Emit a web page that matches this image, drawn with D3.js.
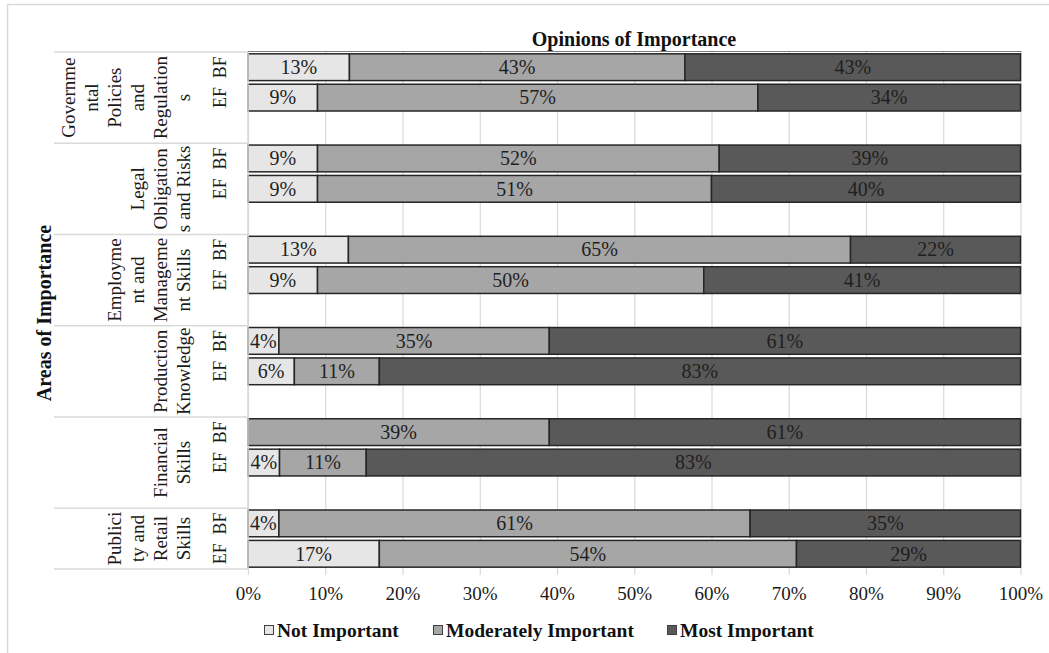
<!DOCTYPE html>
<html>
<head>
<meta charset="utf-8">
<script src="https://cdn.jsdelivr.net/npm/d3@7"></script>
<style>
  body { margin: 0; background: #fff; }
  svg { display: block; }
  text { font-family: "Liberation Serif", "Times New Roman", serif; }
</style>
</head>
<body>
<svg id="chart" width="1049" height="653"></svg>
<script>
// Area names, wrapped the way they are printed beside the bars
const areaLabels = [
  ["Governme", "ntal", "Policies", "and", "Regulation", "s"],
  ["Legal", "Obligation", "s and Risks"],
  ["Employme", "nt and", "Manageme", "nt Skills"],
  ["Production", "Knowledge"],
  ["Financial", "Skills"],
  ["Publici", "ty and", "Retail", "Skills"]
];
const respondents = ["BF", "EF"];

// One entry per bar: BF then EF for each area, top to bottom (percent)
const notImportant  = [13,  9,  9,  9, 13,  9,  4,  6,  0,  4,  4, 17];
const moderately    = [43, 57, 52, 51, 65, 50, 35, 11, 39, 11, 61, 54];
const mostImportant = [43, 34, 39, 40, 22, 41, 61, 83, 61, 83, 35, 29];

const seriesNames = ["Not Important", "Moderately Important", "Most Important"];
const seriesColors = ["#e7e6e6", "#a6a6a6", "#595959"];
const xTickValues = [0, 0.1, 0.2, 0.3, 0.4, 0.5, 0.6, 0.7, 0.8, 0.9, 1];

const chartTitle = "Opinions of Importance";
const axisTitle = "Areas of Importance";

const svg = d3.select("#chart");

// rows for the stack
const rows = notImportant.map((v, i) => ({
  key: `${Math.floor(i / 2)}-${respondents[i % 2]}`,
  area: Math.floor(i / 2),
  resp: respondents[i % 2],
  "Not Important": v,
  "Moderately Important": moderately[i],
  "Most Important": mostImportant[i]
}));

// category slots: two bars per area with an empty slot between areas
const slots = [];
areaLabels.forEach((_, g) => {
  respondents.forEach(r => slots.push(`${g}-${r}`));
  if (g < areaLabels.length - 1) slots.push(`${g}-gap`);
});

const plotTop = 52, plotBottom = 569;
const x = d3.scaleLinear().domain([0, 1]).range([248, 1020.5]);
const y = d3.scaleBand().domain(slots).range([plotTop, plotBottom])
  .paddingInner(0.12).paddingOuter(0.06);
const color = d3.scaleOrdinal().domain(seriesNames).range(seriesColors);

// outer chart frame
svg.append("rect")
  .attr("x", 7.5).attr("y", 4.5).attr("width", 1060).attr("height", 680)
  .attr("fill", "none").attr("stroke", "#d9d9d9").attr("stroke-width", 1.5);

// title
svg.append("text")
  .attr("x", 634).attr("y", 46)
  .attr("text-anchor", "middle")
  .attr("font-weight", "bold").attr("font-size", 20).attr("fill", "#111")
  .text(chartTitle);

// vertical gridlines
const grid = svg.append("g")
  .attr("transform", `translate(0,${plotTop - 1})`)
  .call(d3.axisBottom(x).tickValues(xTickValues).tickSize(575 - plotTop + 1).tickFormat(""));
grid.select(".domain").remove();
grid.selectAll("line").attr("stroke", "#d9d9d9").attr("stroke-width", 1.2);

// top rule of the plot
svg.append("line")
  .attr("x1", x(0)).attr("x2", x(1) + 1)
  .attr("y1", plotTop - 0.5).attr("y2", plotTop - 0.5)
  .attr("stroke", "#7f7f7f").attr("stroke-width", 1.2);

// x tick labels
const xAxis = svg.append("g")
  .attr("transform", `translate(0,${plotBottom})`)
  .call(d3.axisBottom(x).tickValues(xTickValues).tickSize(0).tickPadding(0)
    .tickFormat(d3.format(".0%")));
xAxis.select(".domain").remove();
xAxis.selectAll("text")
  .attr("y", 31).attr("dy", null)
  .attr("font-family", "Liberation Serif, Times New Roman, serif")
  .attr("font-size", 19).attr("fill", "#1a1a1a");

// stacked 100% bars
const stacked = d3.stack().keys(seriesNames).offset(d3.stackOffsetExpand)(rows);

const layers = svg.append("g").selectAll("g")
  .data(stacked).join("g")
  .attr("fill", d => color(d.key));

layers.selectAll("rect")
  .data(d => d).join("rect")
  .attr("x", d => x(d[0]))
  .attr("y", d => y(d.data.key))
  .attr("width", d => x(d[1]) - x(d[0]))
  .attr("height", y.bandwidth())
  .attr("stroke", d => (d[1] - d[0]) > 0 ? "#262626" : "none")
  .attr("stroke-width", 1.5);

// value labels
layers.selectAll("text")
  .data(d => d.map(p => ({ p, key: d.key })).filter(o => o.p.data[o.key] > 0))
  .join("text")
  .attr("x", o => (x(o.p[0]) + x(o.p[1])) / 2)
  .attr("y", o => y(o.p.data.key) + y.bandwidth() / 2)
  .attr("dy", "0.34em")
  .attr("text-anchor", "middle")
  .attr("font-size", 20).attr("fill", "#1f1f1f")
  .text(o => o.p.data[o.key] + "%");

// category axis: left spine
svg.append("line")
  .attr("x1", 248).attr("x2", 248)
  .attr("y1", plotTop).attr("y2", plotBottom)
  .attr("stroke", "#d9d9d9").attr("stroke-width", 1.5);

// group separators
const bounds = areaLabels.map((_, g) => y(`${g}-BF`) - y.step() * y.paddingOuter());
bounds.push(plotBottom);
svg.append("g").selectAll("line")
  .data(bounds).join("line")
  .attr("x1", 54).attr("x2", 248)
  .attr("y1", d => d).attr("y2", d => d)
  .attr("stroke", "#d9d9d9").attr("stroke-width", 1.5);

// respondent labels (BF / EF), rotated
svg.append("g").selectAll("text")
  .data(rows).join("text")
  .attr("transform", d => `translate(220,${y(d.key) + y.bandwidth() / 2}) rotate(-90)`)
  .attr("text-anchor", "middle").attr("dominant-baseline", "central")
  .attr("font-size", 18).attr("fill", "#1a1a1a")
  .text(d => d.resp);

// area labels, rotated and wrapped; last line sits next to the bars
const lineGap = 23, lastLineX = 183;
areaLabels.forEach((lines, g) => {
  const top = bounds[g], bottom = bounds[g + 1];
  const cy = (top + bottom) / 2;
  const grp = svg.append("g");
  lines.forEach((ln, i) => {
    const cx = lastLineX - (lines.length - 1 - i) * lineGap;
    const t = grp.append("text")
      .attr("transform", `translate(${cx},${cy}) rotate(-90)`)
      .attr("text-anchor", "middle").attr("dominant-baseline", "central")
      .attr("font-size", 19).attr("fill", "#1a1a1a")
      .text(ln);
    const w = t.node().getComputedTextLength();
    grp.insert("rect", "text")
      .attr("x", cx - 11).attr("y", cy - w / 2 - 1)
      .attr("width", 22).attr("height", w + 2)
      .attr("fill", "#fff");
  });
});

// axis title
svg.append("text")
  .attr("transform", "translate(44,313) rotate(-90)")
  .attr("text-anchor", "middle").attr("dominant-baseline", "central")
  .attr("font-weight", "bold").attr("font-size", 20).attr("fill", "#111")
  .text(axisTitle);

// legend
const legendX = [264, 433, 667];
const legend = svg.append("g").selectAll("g")
  .data(seriesNames).join("g")
  .attr("transform", (d, i) => `translate(${legendX[i]},625)`);
legend.append("rect")
  .attr("x", 0.5).attr("y", 0.5).attr("width", 9).attr("height", 9)
  .attr("fill", d => color(d)).attr("stroke", "#404040").attr("stroke-width", 1);
legend.append("text")
  .attr("x", 13).attr("y", 12)
  .attr("font-weight", "bold").attr("font-size", 19.5).attr("fill", "#111")
  .text(d => d);
</script>
</body>
</html>
